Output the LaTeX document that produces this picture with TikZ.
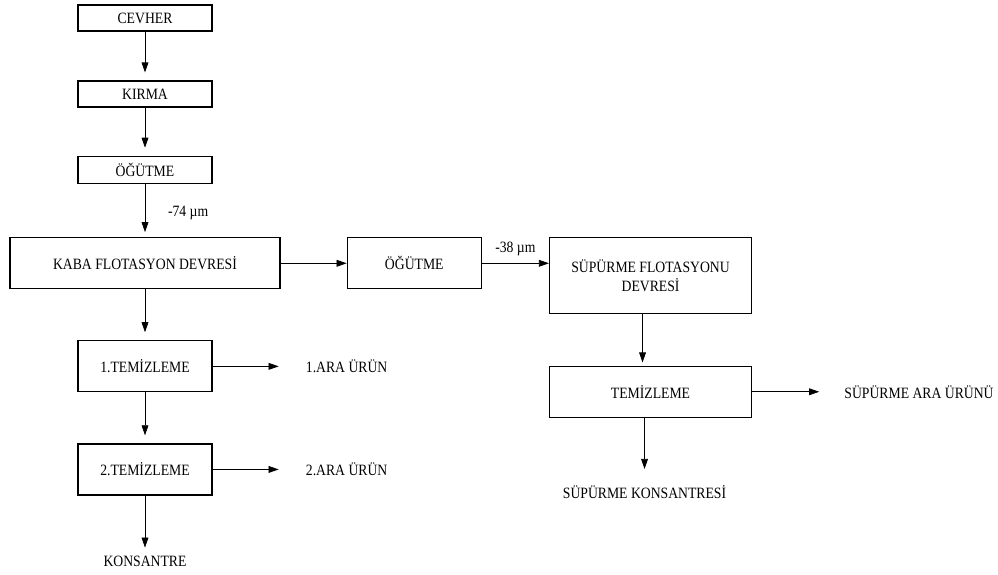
\documentclass[tikz,border=0pt]{standalone}
\usepackage{fontspec}
\setmainfont[FakeStretch=0.87]{Liberation Serif}
\usetikzlibrary{arrows.meta,positioning}
\tikzset{
    box/.style={rectangle, draw, line width=0.9pt, minimum width=3.35cm, minimum height=1.275cm, inner sep=2pt, align=center},
    outtext/.style={inner sep=0pt, align=center},
    flow/.style={-{Triangle[length=2.5mm,width=1.7mm]}, line width=0.5pt},
    gap/.style={shorten >=0.2cm}
}
\begin{document}
\begin{tikzpicture}[font=\fontsize{11.2}{13.4}\selectfont, node distance=1.27cm and 1.65cm]
\useasboundingbox (0,0) rectangle (24.95,-14.35);
% left column
\node[box, minimum height=0.65cm](cevher) at (3.625,-0.45){CEVHER};
\node[box, minimum height=0.65cm](kirma)[below=1.22cm of cevher]{KIRMA};
\node[box, minimum height=0.675cm](ogutme)[below=1.2cm of kirma]{ÖĞÜTME};
\node[box, minimum width=6.75cm](kaba)[below=1.33cm of ogutme]{KABA FLOTASYON DEVRESİ};
\node[box](tem1)[below=of kaba]{1.TEMİZLEME};
\node[box](tem2)[below=of tem1]{2.TEMİZLEME};
\node[outtext](kons)[below=1.5cm of tem2]{KONSANTRE};
\node[outtext](ara1)[right=2.325cm of tem1]{1.ARA ÜRÜN};
\node[outtext](ara2)[right=2.325cm of tem2]{2.ARA ÜRÜN};
% right part
\node[box](ogutme2)[right=of kaba]{ÖĞÜTME};
\node[box, right=1.675cm of ogutme2.north east, anchor=north west, minimum width=5.05cm, minimum height=1.9cm](supurme){SÜPÜRME FLOTASYONU\\DEVRESİ};
\node[box, minimum width=5.05cm](stem)[below=1.28cm of supurme]{TEMİZLEME};
\node[outtext](sara)[right=2.3cm of stem]{SÜPÜRME ARA ÜRÜNÜ};
\node[outtext, xshift=-0.15cm](skons)[below=1.675cm of stem]{SÜPÜRME KONSANTRESİ};
% connectors
\draw[flow, gap](cevher)--(kirma);
\draw[flow, gap](kirma)--(ogutme);
\draw[flow, shorten >=0.125cm](ogutme)--node[right=0.45cm, pos=0.55]{-74 µm}(kaba);
\draw[flow, gap](kaba)--(tem1);
\draw[flow, gap](tem1)--(tem2);
\draw[flow, gap](tem2)--(kons);
\draw[flow, shorten >=0.675cm](tem1)--(ara1);
\draw[flow, shorten >=0.675cm](tem2)--(ara2);
\draw[flow](kaba)--(ogutme2);
\draw[flow](ogutme2.east)--node[above=2pt]{-38 µm}(ogutme2.east -| supurme.west);
\draw[flow, shorten >=0.08cm]([xshift=-0.2cm]supurme.south)--([xshift=-0.2cm]stem.north);
\draw[flow, shorten >=0.625cm](stem)--(sara);
\draw[flow, shorten >=0.4cm](stem.south -| skons.north)--(skons.north);
\end{tikzpicture}
\end{document}
